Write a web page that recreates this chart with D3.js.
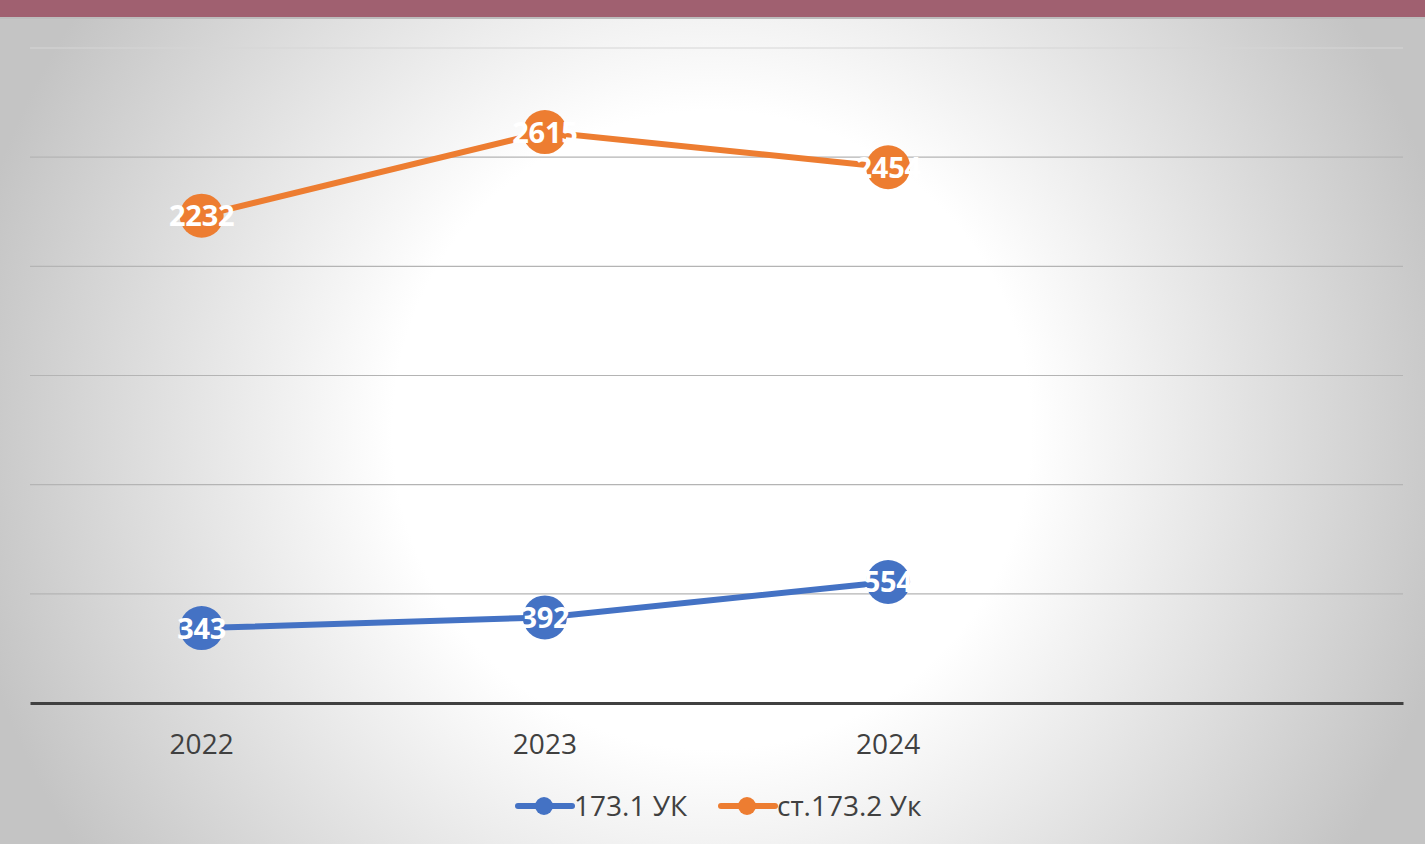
<!DOCTYPE html>
<html>
<head>
<meta charset="utf-8">
<script src="https://cdn.jsdelivr.net/npm/d3@7"></script>
<style>
  html, body { margin: 0; padding: 0; }
  body { width: 1425px; height: 844px; overflow: hidden; }
</style>
</head>
<body>
<svg id="chart" width="1425" height="844"></svg>
<script>
/* chart data */
var years = ["2022", "2023", "2024", ""];
var series1 = [343, 392, 554];
var series2 = [2232, 2615, 2454];
var seriesNames = ["173.1 УК", "ст.173.2 Ук"];
var seriesColors = ["#4472c4", "#ed7d31"];
var yTicks = [0, 500, 1000, 1500, 2000, 2500, 3000];

var svg = d3.select("#chart");
var W = 1425, H = 844;
var font = "'Open Sans', 'Noto Sans', sans-serif";

// background gradient
var defs = svg.append("defs");
var grad = defs.append("radialGradient")
    .attr("id", "bg")
    .attr("gradientUnits", "userSpaceOnUse")
    .attr("cx", 712).attr("cy", 430).attr("r", 760);
grad.append("stop").attr("offset", "0").attr("stop-color", "#ffffff");
grad.append("stop").attr("offset", "0.42").attr("stop-color", "#ffffff");
grad.append("stop").attr("offset", "1").attr("stop-color", "#c4c4c4");

svg.append("rect").attr("width", W).attr("height", H).attr("fill", "url(#bg)");
svg.append("rect").attr("width", W).attr("height", 17).attr("fill", "#a06070");
svg.append("rect").attr("y", 17).attr("width", W).attr("height", 2).attr("fill", "#bdbdbd");

var margin = {left: 30, right: 22, top: 48, bottom: 141};
var x = d3.scaleBand().domain(years).range([margin.left, W - margin.right]);
var y = d3.scaleLinear().domain([0, 3000]).range([H - margin.bottom, margin.top]);

// gridlines
svg.append("g").selectAll("line")
    .data(yTicks.slice(1))
    .enter().append("line")
    .attr("x1", margin.left).attr("x2", W - margin.right)
    .attr("y1", function(d) { return y(d); })
    .attr("y2", function(d) { return y(d); })
    .attr("stroke", function(d) { return d == 3000 ? "#d6d6d6" : "#b4b4b4"; })
    .attr("stroke-width", 1.2);

// x axis
var xAxis = d3.axisBottom(x).tickSize(0).tickPadding(31);
var gx = svg.append("g")
    .attr("transform", "translate(0," + y(0) + ")")
    .call(xAxis);
gx.select(".domain").attr("stroke", "#404040").attr("stroke-width", 3);
gx.selectAll("text")
    .attr("font-family", font)
    .attr("font-size", 28)
    .attr("fill", "#404040");

var cx = function(i) { return x(years[i]) + x.bandwidth() / 2; };

[series1, series2].forEach(function(data, s) {
    var line = d3.line()
        .x(function(d, i) { return cx(i); })
        .y(function(d) { return y(d); });
    svg.append("path")
        .datum(data)
        .attr("d", line)
        .attr("fill", "none")
        .attr("stroke", seriesColors[s])
        .attr("stroke-width", 6)
        .attr("stroke-linecap", "round");

    var pts = svg.append("g").selectAll("g")
        .data(data)
        .enter().append("g")
        .attr("transform", function(d, i) { return "translate(" + cx(i) + "," + y(d) + ")"; });
    pts.append("circle")
        .attr("r", 22)
        .attr("fill", seriesColors[s]);
    pts.append("text")
        .attr("text-anchor", "middle")
        .attr("dy", "0.36em")
        .attr("font-family", font)
        .attr("font-weight", "bold")
        .attr("font-size", 29)
        .attr("letter-spacing", -0.3)
        .attr("fill", "#ffffff")
        .text(function(d) { return d; });
});

// legend
var legendX = [515, 718];
seriesNames.forEach(function(name, s) {
    var g = svg.append("g").attr("transform", "translate(" + legendX[s] + ",806)");
    g.append("line")
        .attr("x1", 3).attr("x2", 57)
        .attr("stroke", seriesColors[s])
        .attr("stroke-width", 6)
        .attr("stroke-linecap", "round");
    g.append("circle").attr("cx", 29).attr("r", 9).attr("fill", seriesColors[s]);
    g.append("text")
        .attr("x", 59)
        .attr("dy", "0.36em")
        .attr("font-family", font)
        .attr("font-size", 28)
        .attr("fill", "#404040")
        .text(name);
});
</script>
</body>
</html>
